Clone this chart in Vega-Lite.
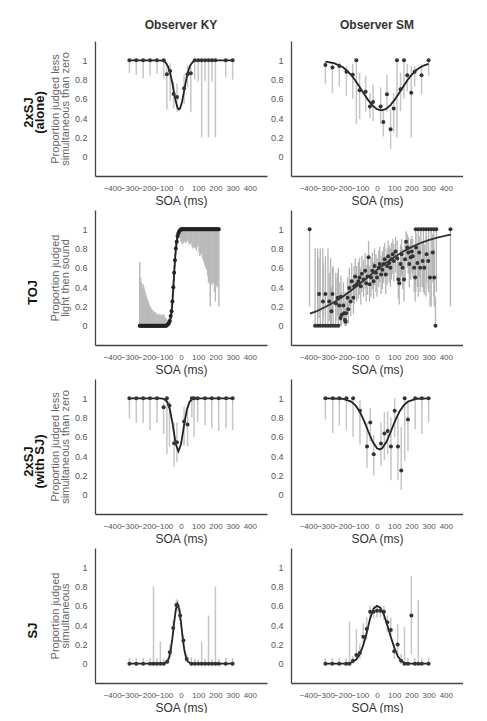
{
"$schema": "https://vega.github.io/schema/vega-lite/v6.json",
"padding": {"left": 22, "top": 19, "right": 0, "bottom": 0},
"background": "white",
"spacing": 4,
"config": {
  "font": "Liberation Sans",
  "view": {"stroke": null},
  "axis": {"grid": false, "ticks": false, "domainColor": "#444", "domainWidth": 1.3, "labelColor": "#555", "labelFont": "Liberation Sans", "titleFont": "Liberation Sans", "titleFontWeight": "normal", "labelOverlap": false, "labelFlush": false},
  "axisX": {"labelFontSize": 8, "labelPadding": 8, "titleFontSize": 12, "titleColor": "#333", "titlePadding": 3},
  "axisY": {"labelFontSize": 9, "labelPadding": 8, "titleFontSize": 11, "titleColor": "#666", "titleLineHeight": 9.5, "titlePadding": 4},
  "title": {"font": "Liberation Sans", "fontSize": 12, "fontWeight": "bold", "color": "#333", "offset": 9}
},
"datasets": {
  "p1": [
    {"x": -300, "y": 1, "lo": 0.87, "hi": 1}, {"x": -260, "y": 1, "lo": 0.85, "hi": 1}, {"x": -220, "y": 1, "lo": 0.81, "hi": 1}, {"x": -180, "y": 1, "lo": 0.84, "hi": 1}, {"x": -140, "y": 1, "lo": 0.86, "hi": 1}, {"x": -100, "y": 1, "lo": 0.82, "hi": 1},
    {"x": -82, "y": 0.855, "lo": 0.49, "hi": 0.97}, {"x": -63, "y": 0.89, "lo": 0.58, "hi": 0.97}, {"x": -43, "y": 0.65, "lo": 0.5, "hi": 0.78}, {"x": -23, "y": 0.62, "lo": 0.47, "hi": 0.76}, {"x": 18, "y": 0.71, "lo": 0.55, "hi": 0.85}, {"x": 38, "y": 0.855, "lo": 0.72, "hi": 0.95}, {"x": 57, "y": 0.865, "lo": 0.46, "hi": 0.95},
    {"x": 80, "y": 1, "lo": 0.8, "hi": 1}, {"x": 100, "y": 1, "lo": 0.78, "hi": 1}, {"x": 120, "y": 1, "lo": 0.2, "hi": 1}, {"x": 140, "y": 1, "lo": 0.78, "hi": 1}, {"x": 160, "y": 1, "lo": 0.2, "hi": 1}, {"x": 180, "y": 1, "lo": 0.78, "hi": 1}, {"x": 200, "y": 1, "lo": 0.2, "hi": 1}, {"x": 260, "y": 1, "lo": 0.82, "hi": 1}, {"x": 300, "y": 1, "lo": 0.8, "hi": 1}
  ],
  "c1": [
    {"x": -300, "y": 1}, {"x": -150, "y": 1}, {"x": -110, "y": 0.997}, {"x": -90, "y": 0.979}, {"x": -75, "y": 0.935}, {"x": -60, "y": 0.846}, {"x": -50, "y": 0.759}, {"x": -40, "y": 0.661}, {"x": -30, "y": 0.569}, {"x": -20, "y": 0.507}, {"x": -12, "y": 0.49}, {"x": -5, "y": 0.503}, {"x": 5, "y": 0.561}, {"x": 15, "y": 0.651}, {"x": 25, "y": 0.75}, {"x": 35, "y": 0.838}, {"x": 45, "y": 0.906}, {"x": 55, "y": 0.951}, {"x": 70, "y": 0.985}, {"x": 90, "y": 0.998}, {"x": 120, "y": 1}, {"x": 300, "y": 1}
  ],
  "p2": [
    {"x": -300, "y": 0.95, "lo": 0.75, "hi": 0.98}, {"x": -259, "y": 0.924, "lo": 0.66, "hi": 0.98}, {"x": -219, "y": 0.94, "lo": 0.73, "hi": 0.98}, {"x": -178, "y": 0.88, "lo": 0.63, "hi": 0.94}, {"x": -141, "y": 0.85, "lo": 0.6, "hi": 0.96}, {"x": -120, "y": 1, "lo": 0.34, "hi": 1}, {"x": -101, "y": 0.69, "lo": 0.39, "hi": 0.87}, {"x": -66, "y": 0.675, "lo": 0.47, "hi": 0.84}, {"x": -41, "y": 0.52, "lo": 0.4, "hi": 0.66}, {"x": -23, "y": 0.567, "lo": 0.37, "hi": 0.75}, {"x": 21, "y": 0.52, "lo": 0.34, "hi": 0.72}, {"x": 37, "y": 0.36, "lo": 0.21, "hi": 0.49}, {"x": 58, "y": 0.647, "lo": 0.47, "hi": 0.85}, {"x": 79, "y": 0.284, "lo": 0.08, "hi": 0.49}, {"x": 97, "y": 0.5, "lo": 0.25, "hi": 0.66}, {"x": 116, "y": 1, "lo": 0.2, "hi": 1}, {"x": 137, "y": 0.7, "lo": 0.47, "hi": 0.87}, {"x": 157, "y": 1, "lo": 0.6, "hi": 1}, {"x": 176, "y": 0.844, "lo": 0.68, "hi": 0.96}, {"x": 199, "y": 0.664, "lo": 0.2, "hi": 0.94}, {"x": 219, "y": 0.88, "lo": 0.73, "hi": 0.94}, {"x": 259, "y": 0.844, "lo": 0.65, "hi": 0.96}, {"x": 300, "y": 1, "lo": 0.84, "hi": 1}
  ],
  "c2": [
    {"x": -300, "y": 0.985}, {"x": -250, "y": 0.97}, {"x": -200, "y": 0.931}, {"x": -175, "y": 0.894}, {"x": -150, "y": 0.847}, {"x": -125, "y": 0.788}, {"x": -100, "y": 0.721}, {"x": -75, "y": 0.651}, {"x": -50, "y": 0.584}, {"x": -25, "y": 0.529}, {"x": 0, "y": 0.493}, {"x": 25, "y": 0.48}, {"x": 50, "y": 0.493}, {"x": 75, "y": 0.529}, {"x": 100, "y": 0.584}, {"x": 125, "y": 0.651}, {"x": 150, "y": 0.721}, {"x": 175, "y": 0.788}, {"x": 200, "y": 0.847}, {"x": 225, "y": 0.894}, {"x": 250, "y": 0.926}, {"x": 275, "y": 0.948}, {"x": 300, "y": 0.962}
  ],
  "p3": [
    {"x": -300, "y": 1, "lo": 0.79, "hi": 1}, {"x": -260, "y": 1, "lo": 0.745, "hi": 1}, {"x": -220, "y": 1, "lo": 0.74, "hi": 1}, {"x": -180, "y": 1, "lo": 0.67, "hi": 1}, {"x": -140, "y": 1, "lo": 0.745, "hi": 1}, {"x": -101, "y": 0.907, "lo": 0.63, "hi": 0.95}, {"x": -82, "y": 1, "lo": 0.42, "hi": 1}, {"x": -67, "y": 0.924, "lo": 0.5, "hi": 0.97}, {"x": -40, "y": 0.534, "lo": 0.29, "hi": 0.75}, {"x": -24, "y": 0.545, "lo": 0.34, "hi": 0.75}, {"x": 18, "y": 0.759, "lo": 0.51, "hi": 0.91}, {"x": 38, "y": 0.728, "lo": 0.5, "hi": 0.88}, {"x": 63, "y": 1, "lo": 0.8, "hi": 1}, {"x": 76, "y": 1, "lo": 0.6, "hi": 1}, {"x": 97, "y": 1, "lo": 0.75, "hi": 1}, {"x": 140, "y": 1, "lo": 0.72, "hi": 1}, {"x": 179, "y": 1, "lo": 0.69, "hi": 1}, {"x": 219, "y": 1, "lo": 0.66, "hi": 1}, {"x": 262, "y": 1, "lo": 0.69, "hi": 1}, {"x": 300, "y": 1, "lo": 0.67, "hi": 1}
  ],
  "c3": [
    {"x": -300, "y": 1}, {"x": -120, "y": 0.999}, {"x": -100, "y": 0.995}, {"x": -80, "y": 0.963}, {"x": -65, "y": 0.888}, {"x": -50, "y": 0.748}, {"x": -40, "y": 0.63}, {"x": -30, "y": 0.524}, {"x": -15, "y": 0.45}, {"x": 0, "y": 0.524}, {"x": 10, "y": 0.63}, {"x": 20, "y": 0.748}, {"x": 35, "y": 0.888}, {"x": 50, "y": 0.963}, {"x": 65, "y": 0.991}, {"x": 90, "y": 1}, {"x": 300, "y": 1}
  ],
  "p4": [
    {"x": -300, "y": 1, "lo": 0.78, "hi": 1}, {"x": -257, "y": 1, "lo": 0.64, "hi": 1}, {"x": -219, "y": 1, "lo": 0.72, "hi": 1}, {"x": -178, "y": 1, "lo": 0.67, "hi": 1}, {"x": -139, "y": 1, "lo": 0.6, "hi": 1}, {"x": -99, "y": 0.87, "lo": 0.52, "hi": 0.98}, {"x": -58, "y": 0.5, "lo": 0.28, "hi": 0.75}, {"x": -39, "y": 0.75, "lo": 0.55, "hi": 0.9}, {"x": -19, "y": 0.42, "lo": 0.2, "hi": 0.62}, {"x": 23, "y": 0.53, "lo": 0.3, "hi": 0.75}, {"x": 43, "y": 0.635, "lo": 0.36, "hi": 0.86}, {"x": 62, "y": 0.66, "lo": 0.42, "hi": 0.87}, {"x": 81, "y": 0.5, "lo": 0.15, "hi": 0.8}, {"x": 103, "y": 0.87, "lo": 0.6, "hi": 1}, {"x": 122, "y": 0.5, "lo": 0.15, "hi": 0.8}, {"x": 141, "y": 0.25, "lo": 0.05, "hi": 0.7}, {"x": 161, "y": 1, "lo": 0.35, "hi": 1}, {"x": 180, "y": 0.78, "lo": 0.45, "hi": 0.97}, {"x": 222, "y": 1, "lo": 0.68, "hi": 1}, {"x": 261, "y": 1, "lo": 0.63, "hi": 1}, {"x": 300, "y": 1, "lo": 0.75, "hi": 1}
  ],
  "c4": [
    {"x": -300, "y": 1}, {"x": -200, "y": 0.995}, {"x": -150, "y": 0.966}, {"x": -125, "y": 0.926}, {"x": -100, "y": 0.86}, {"x": -75, "y": 0.765}, {"x": -50, "y": 0.653}, {"x": -25, "y": 0.549}, {"x": 0, "y": 0.482}, {"x": 15, "y": 0.47}, {"x": 30, "y": 0.482}, {"x": 55, "y": 0.549}, {"x": 80, "y": 0.653}, {"x": 105, "y": 0.765}, {"x": 130, "y": 0.86}, {"x": 155, "y": 0.926}, {"x": 180, "y": 0.966}, {"x": 230, "y": 0.995}, {"x": 300, "y": 1}
  ],
  "p5": [
    {"x": -240, "y": 0, "lo": 0, "hi": 0.66}, {"x": -235, "y": 0, "lo": 0, "hi": 0.5}, {"x": -230, "y": 0, "lo": 0, "hi": 0.45}, {"x": -225, "y": 0, "lo": 0, "hi": 0.38}, {"x": -220, "y": 0, "lo": 0, "hi": 0.43}, {"x": -215, "y": 0, "lo": 0, "hi": 0.4}, {"x": -210, "y": 0, "lo": 0, "hi": 0.36}, {"x": -205, "y": 0, "lo": 0, "hi": 0.33}, {"x": -200, "y": 0, "lo": 0, "hi": 0.3}, {"x": -195, "y": 0, "lo": 0, "hi": 0.27}, {"x": -190, "y": 0, "lo": 0, "hi": 0.25}, {"x": -185, "y": 0, "lo": 0, "hi": 0.22}, {"x": -180, "y": 0, "lo": 0, "hi": 0.2}, {"x": -175, "y": 0, "lo": 0, "hi": 0.19}, {"x": -170, "y": 0, "lo": 0, "hi": 0.17}, {"x": -165, "y": 0, "lo": 0, "hi": 0.16}, {"x": -160, "y": 0, "lo": 0, "hi": 0.15}, {"x": -155, "y": 0, "lo": 0, "hi": 0.14}, {"x": -150, "y": 0, "lo": 0, "hi": 0.14}, {"x": -145, "y": 0, "lo": 0, "hi": 0.13}, {"x": -140, "y": 0, "lo": 0, "hi": 0.12}, {"x": -135, "y": 0, "lo": 0, "hi": 0.12}, {"x": -130, "y": 0, "lo": 0, "hi": 0.11}, {"x": -125, "y": 0, "lo": 0, "hi": 0.12}, {"x": -120, "y": 0, "lo": 0, "hi": 0.1}, {"x": -115, "y": 0, "lo": 0, "hi": 0.12}, {"x": -110, "y": 0, "lo": 0, "hi": 0.1}, {"x": -105, "y": 0, "lo": 0, "hi": 0.11}, {"x": -100, "y": 0, "lo": 0, "hi": 0.12}, {"x": -95, "y": 0, "lo": 0, "hi": 0.09}, {"x": -90, "y": 0, "lo": 0, "hi": 0.08}, {"x": -85, "y": 0, "lo": 0, "hi": 0.07}, {"x": -80, "y": 0.01, "lo": 0, "hi": 0.06}, {"x": -75, "y": 0.015, "lo": 0, "hi": 0.06}, {"x": -70, "y": 0.03, "lo": 0, "hi": 0.08}, {"x": -65, "y": 0.05, "lo": 0.01, "hi": 0.11}, {"x": -60, "y": 0.1, "lo": 0.05, "hi": 0.17}, {"x": -55, "y": 0.15, "lo": 0.09, "hi": 0.23}, {"x": -50, "y": 0.25, "lo": 0.18, "hi": 0.33}, {"x": -45, "y": 0.4, "lo": 0.32, "hi": 0.48}, {"x": -40, "y": 0.55, "lo": 0.47, "hi": 0.63}, {"x": -35, "y": 0.68, "lo": 0.6, "hi": 0.75}, {"x": -30, "y": 0.8, "lo": 0.73, "hi": 0.86}, {"x": -25, "y": 0.87, "lo": 0.81, "hi": 0.92}, {"x": -20, "y": 0.93, "lo": 0.88, "hi": 0.97}, {"x": -15, "y": 0.96, "lo": 0.9, "hi": 0.99}, {"x": -10, "y": 0.98, "lo": 0.92, "hi": 1}, {"x": -5, "y": 0.99, "lo": 0.9, "hi": 1},
    {"x": 0, "y": 1, "lo": 0.87, "hi": 1}, {"x": 5, "y": 1, "lo": 0.85, "hi": 1}, {"x": 10, "y": 1, "lo": 0.85, "hi": 1}, {"x": 15, "y": 1, "lo": 0.87, "hi": 1}, {"x": 20, "y": 1, "lo": 0.88, "hi": 1}, {"x": 25, "y": 1, "lo": 0.86, "hi": 1}, {"x": 30, "y": 1, "lo": 0.86, "hi": 1}, {"x": 35, "y": 1, "lo": 0.88, "hi": 1}, {"x": 40, "y": 1, "lo": 0.9, "hi": 1}, {"x": 45, "y": 1, "lo": 0.86, "hi": 1}, {"x": 50, "y": 1, "lo": 0.84, "hi": 1}, {"x": 55, "y": 1, "lo": 0.85, "hi": 1}, {"x": 60, "y": 1, "lo": 0.86, "hi": 1}, {"x": 65, "y": 1, "lo": 0.82, "hi": 1}, {"x": 70, "y": 1, "lo": 0.8, "hi": 1}, {"x": 75, "y": 1, "lo": 0.81, "hi": 1}, {"x": 80, "y": 1, "lo": 0.82, "hi": 1}, {"x": 85, "y": 1, "lo": 0.8, "hi": 1}, {"x": 90, "y": 1, "lo": 0.78, "hi": 1}, {"x": 95, "y": 1, "lo": 0.82, "hi": 1}, {"x": 100, "y": 1, "lo": 0.85, "hi": 1}, {"x": 105, "y": 1, "lo": 0.76, "hi": 1}, {"x": 110, "y": 1, "lo": 0.72, "hi": 1}, {"x": 115, "y": 1, "lo": 0.74, "hi": 1}, {"x": 120, "y": 1, "lo": 0.75, "hi": 1}, {"x": 125, "y": 1, "lo": 0.7, "hi": 1}, {"x": 130, "y": 1, "lo": 0.68, "hi": 1}, {"x": 135, "y": 1, "lo": 0.65, "hi": 1}, {"x": 140, "y": 1, "lo": 0.62, "hi": 1}, {"x": 145, "y": 1, "lo": 0.6, "hi": 1}, {"x": 150, "y": 1, "lo": 0.58, "hi": 1}, {"x": 155, "y": 1, "lo": 0.52, "hi": 1}, {"x": 160, "y": 1, "lo": 0.45, "hi": 1}, {"x": 165, "y": 1, "lo": 0.44, "hi": 1}, {"x": 170, "y": 1, "lo": 0.2, "hi": 1}, {"x": 175, "y": 1, "lo": 0.43, "hi": 1}, {"x": 180, "y": 1, "lo": 0.42, "hi": 1}, {"x": 185, "y": 1, "lo": 0.45, "hi": 1}, {"x": 190, "y": 1, "lo": 0.44, "hi": 1}, {"x": 195, "y": 1, "lo": 0.35, "hi": 1}, {"x": 200, "y": 1, "lo": 0.25, "hi": 1}, {"x": 205, "y": 1, "lo": 0.42, "hi": 1}, {"x": 210, "y": 1, "lo": 0.4, "hi": 1}, {"x": 215, "y": 1, "lo": 0.43, "hi": 1}, {"x": 220, "y": 1, "lo": 0.2, "hi": 1}
  ],
  "c5": [
    {"x": -240, "y": 0}, {"x": -120, "y": 0}, {"x": -100, "y": 0.001}, {"x": -80, "y": 0.007}, {"x": -70, "y": 0.023}, {"x": -60, "y": 0.08}, {"x": -55, "y": 0.14}, {"x": -50, "y": 0.24}, {"x": -45, "y": 0.38}, {"x": -40, "y": 0.53}, {"x": -35, "y": 0.68}, {"x": -30, "y": 0.8}, {"x": -25, "y": 0.88}, {"x": -20, "y": 0.935}, {"x": -10, "y": 0.98}, {"x": 0, "y": 0.995}, {"x": 20, "y": 1}, {"x": 220, "y": 1}
  ],
  "p6": [
    {"x": -392, "y": 1, "lo": 0.2, "hi": 1}, {"x": 427, "y": 1, "lo": 0.2, "hi": 1}, {"x": 340, "y": 0, "lo": 0, "hi": 0.3},
    {"x": -360, "y": 0, "lo": 0, "hi": 0.8}, {"x": -345, "y": 0, "lo": 0, "hi": 0.8}, {"x": -330, "y": 0, "lo": 0, "hi": 0.8}, {"x": -315, "y": 0, "lo": 0, "hi": 0.8}, {"x": -300, "y": 0, "lo": 0, "hi": 0.72}, {"x": -285, "y": 0, "lo": 0, "hi": 0.8}, {"x": -270, "y": 0, "lo": 0, "hi": 0.7}, {"x": -255, "y": 0, "lo": 0, "hi": 0.62}, {"x": -240, "y": 0, "lo": 0, "hi": 0.55}, {"x": -225, "y": 0, "lo": 0, "hi": 0.6},
    {"x": -337, "y": 0.33, "lo": 0.08, "hi": 0.7}, {"x": -314, "y": 0.25, "lo": 0.05, "hi": 0.65}, {"x": -300, "y": 0.33, "lo": 0.1, "hi": 0.62}, {"x": -278, "y": 0.25, "lo": 0.05, "hi": 0.55}, {"x": -259, "y": 0.33, "lo": 0.12, "hi": 0.6}, {"x": -265, "y": 0.15, "lo": 0, "hi": 0.4}, {"x": -239, "y": 0.23, "lo": 0.05, "hi": 0.5}, {"x": -229, "y": 0.29, "lo": 0.1, "hi": 0.55}, {"x": -220, "y": 0.21, "lo": 0.05, "hi": 0.45}, {"x": -210, "y": 0.3, "lo": 0.12, "hi": 0.52}, {"x": -206, "y": 0.11, "lo": 0, "hi": 0.35}, {"x": -196, "y": 0.21, "lo": 0.05, "hi": 0.45}, {"x": -212, "y": 0.08, "lo": 0, "hi": 0.3}, {"x": -192, "y": 0.13, "lo": 0.02, "hi": 0.35}, {"x": -186, "y": 0.06, "lo": 0, "hi": 0.25}, {"x": -182, "y": 0.04, "lo": 0, "hi": 0.2}, {"x": -180, "y": 0.13, "lo": 0, "hi": 0.35}, {"x": -171, "y": 0.29, "lo": 0.12, "hi": 0.5}, {"x": -161, "y": 0.39, "lo": 0.2, "hi": 0.6}, {"x": -167, "y": 0.17, "lo": 0.02, "hi": 0.4}, {"x": -153, "y": 0.25, "lo": 0.1, "hi": 0.48}, {"x": -147, "y": 0.46, "lo": 0.28, "hi": 0.65}, {"x": -137, "y": 0.29, "lo": 0.12, "hi": 0.5}, {"x": -133, "y": 0.41, "lo": 0.22, "hi": 0.62},
    {"x": -127, "y": 0.51, "lo": 0.3, "hi": 0.7}, {"x": -118, "y": 0.43, "lo": 0.25, "hi": 0.62}, {"x": -108, "y": 0.46, "lo": 0.28, "hi": 0.66}, {"x": -102, "y": 0.5, "lo": 0.32, "hi": 0.7}, {"x": -94, "y": 0.41, "lo": 0.22, "hi": 0.6}, {"x": -88, "y": 0.54, "lo": 0.35, "hi": 0.72}, {"x": -78, "y": 0.48, "lo": 0.3, "hi": 0.68}, {"x": -69, "y": 0.57, "lo": 0.38, "hi": 0.75}, {"x": -63, "y": 0.44, "lo": 0.25, "hi": 0.63}, {"x": -55, "y": 0.51, "lo": 0.32, "hi": 0.7}, {"x": -49, "y": 0.71, "lo": 0.5, "hi": 0.88}, {"x": -43, "y": 0.43, "lo": 0.25, "hi": 0.62}, {"x": -35, "y": 0.5, "lo": 0.3, "hi": 0.7}, {"x": -27, "y": 0.57, "lo": 0.38, "hi": 0.76}, {"x": -20, "y": 0.46, "lo": 0.28, "hi": 0.66}, {"x": -14, "y": 0.62, "lo": 0.42, "hi": 0.8}, {"x": -6, "y": 0.55, "lo": 0.35, "hi": 0.74}, {"x": 0, "y": 0.5, "lo": 0.3, "hi": 0.7}, {"x": 10, "y": 0.6, "lo": 0.4, "hi": 0.78}, {"x": 16, "y": 0.64, "lo": 0.45, "hi": 0.82}, {"x": 24, "y": 0.53, "lo": 0.33, "hi": 0.72}, {"x": 31, "y": 0.58, "lo": 0.38, "hi": 0.77}, {"x": 39, "y": 0.64, "lo": 0.44, "hi": 0.82}, {"x": 45, "y": 0.69, "lo": 0.5, "hi": 0.86}, {"x": 51, "y": 0.53, "lo": 0.33, "hi": 0.72}, {"x": 59, "y": 0.62, "lo": 0.42, "hi": 0.8}, {"x": 65, "y": 0.72, "lo": 0.52, "hi": 0.88}, {"x": 71, "y": 0.65, "lo": 0.45, "hi": 0.83}, {"x": 78, "y": 0.6, "lo": 0.4, "hi": 0.8}, {"x": 84, "y": 0.69, "lo": 0.48, "hi": 0.86}, {"x": 92, "y": 0.74, "lo": 0.54, "hi": 0.9}, {"x": 98, "y": 0.67, "lo": 0.46, "hi": 0.85},
    {"x": 108, "y": 0.77, "lo": 0.55, "hi": 0.92}, {"x": 118, "y": 0.7, "lo": 0.48, "hi": 0.88}, {"x": 124, "y": 0.48, "lo": 0.28, "hi": 0.7}, {"x": 129, "y": 0.44, "lo": 0.22, "hi": 0.66}, {"x": 137, "y": 0.64, "lo": 0.42, "hi": 0.84}, {"x": 143, "y": 0.74, "lo": 0.52, "hi": 0.9}, {"x": 149, "y": 0.6, "lo": 0.38, "hi": 0.8}, {"x": 157, "y": 0.48, "lo": 0.25, "hi": 0.7}, {"x": 163, "y": 0.69, "lo": 0.46, "hi": 0.88}, {"x": 169, "y": 0.87, "lo": 0.68, "hi": 0.98}, {"x": 176, "y": 0.81, "lo": 0.6, "hi": 0.95}, {"x": 182, "y": 0.76, "lo": 0.54, "hi": 0.92}, {"x": 188, "y": 0.64, "lo": 0.4, "hi": 0.84}, {"x": 196, "y": 0.71, "lo": 0.48, "hi": 0.9}, {"x": 202, "y": 0.77, "lo": 0.55, "hi": 0.93}, {"x": 208, "y": 0.72, "lo": 0.5, "hi": 0.9}, {"x": 216, "y": 0.6, "lo": 0.35, "hi": 0.82}, {"x": 222, "y": 0.5, "lo": 0.25, "hi": 0.75}, {"x": 227, "y": 0.81, "lo": 0.58, "hi": 0.96}, {"x": 235, "y": 0.65, "lo": 0.4, "hi": 0.86}, {"x": 245, "y": 0.76, "lo": 0.5, "hi": 0.93}, {"x": 251, "y": 0.6, "lo": 0.35, "hi": 0.82}, {"x": 265, "y": 0.67, "lo": 0.4, "hi": 0.88}, {"x": 275, "y": 0.6, "lo": 0.32, "hi": 0.84}, {"x": 288, "y": 0.74, "lo": 0.45, "hi": 0.93}, {"x": 298, "y": 0.67, "lo": 0.38, "hi": 0.88}, {"x": 308, "y": 0.5, "lo": 0.2, "hi": 0.78}, {"x": 324, "y": 0.76, "lo": 0.45, "hi": 0.95}, {"x": 333, "y": 0.5, "lo": 0.2, "hi": 0.8},
    {"x": 225, "y": 1, "lo": 0.35, "hi": 1}, {"x": 240, "y": 1, "lo": 0.3, "hi": 1}, {"x": 255, "y": 1, "lo": 0.4, "hi": 1}, {"x": 270, "y": 1, "lo": 0.35, "hi": 1}, {"x": 285, "y": 1, "lo": 0.3, "hi": 1}, {"x": 300, "y": 1, "lo": 0.35, "hi": 1}, {"x": 315, "y": 1, "lo": 0.2, "hi": 1}, {"x": 330, "y": 1, "lo": 0.3, "hi": 1}, {"x": 345, "y": 1, "lo": 0.35, "hi": 1}
  ],
  "c6": [
    {"x": -390, "y": 0.125}, {"x": -350, "y": 0.152}, {"x": -300, "y": 0.194}, {"x": -250, "y": 0.243}, {"x": -200, "y": 0.301}, {"x": -150, "y": 0.365}, {"x": -100, "y": 0.435}, {"x": -50, "y": 0.507}, {"x": 0, "y": 0.579}, {"x": 50, "y": 0.648}, {"x": 100, "y": 0.711}, {"x": 150, "y": 0.767}, {"x": 200, "y": 0.815}, {"x": 250, "y": 0.855}, {"x": 300, "y": 0.887}, {"x": 350, "y": 0.913}, {"x": 400, "y": 0.934}, {"x": 430, "y": 0.944}
  ],
  "p7": [
    {"x": -300, "y": 0, "lo": 0, "hi": 0.06}, {"x": -260, "y": 0, "lo": 0, "hi": 0.06}, {"x": -220, "y": 0, "lo": 0, "hi": 0.06}, {"x": -180, "y": 0, "lo": 0, "hi": 0.06}, {"x": -160, "y": 0, "lo": 0, "hi": 0.8}, {"x": -140, "y": 0, "lo": 0, "hi": 0.06}, {"x": -120, "y": 0, "lo": 0, "hi": 0.23}, {"x": -100, "y": 0, "lo": 0, "hi": 0.05}, {"x": -80, "y": 0.02, "lo": 0, "hi": 0.06}, {"x": -65, "y": 0.12, "lo": 0.06, "hi": 0.2}, {"x": -45, "y": 0.37, "lo": 0.3, "hi": 0.45}, {"x": -27, "y": 0.61, "lo": 0.55, "hi": 0.67}, {"x": -20, "y": 0.6, "lo": 0.54, "hi": 0.66}, {"x": -5, "y": 0.5, "lo": 0.44, "hi": 0.57}, {"x": 14, "y": 0.24, "lo": 0.18, "hi": 0.3}, {"x": 33, "y": 0.05, "lo": 0.02, "hi": 0.1}, {"x": 60, "y": 0, "lo": 0, "hi": 0.07}, {"x": 80, "y": 0, "lo": 0, "hi": 0.05}, {"x": 100, "y": 0, "lo": 0, "hi": 0.04}, {"x": 120, "y": 0, "lo": 0, "hi": 0.23}, {"x": 140, "y": 0, "lo": 0, "hi": 0.05}, {"x": 160, "y": 0, "lo": 0, "hi": 0.5}, {"x": 180, "y": 0, "lo": 0, "hi": 0.05}, {"x": 200, "y": 0, "lo": 0, "hi": 0.8}, {"x": 220, "y": 0, "lo": 0, "hi": 0.05}, {"x": 260, "y": 0, "lo": 0, "hi": 0.06}, {"x": 300, "y": 0, "lo": 0, "hi": 0.06}
  ],
  "c7": [
    {"x": -300, "y": 0}, {"x": -120, "y": 0}, {"x": -100, "y": 0.002}, {"x": -80, "y": 0.021}, {"x": -70, "y": 0.058}, {"x": -60, "y": 0.137}, {"x": -50, "y": 0.265}, {"x": -40, "y": 0.425}, {"x": -30, "y": 0.564}, {"x": -20, "y": 0.62}, {"x": -10, "y": 0.564}, {"x": 0, "y": 0.425}, {"x": 10, "y": 0.265}, {"x": 20, "y": 0.137}, {"x": 30, "y": 0.058}, {"x": 40, "y": 0.021}, {"x": 60, "y": 0.002}, {"x": 80, "y": 0}, {"x": 300, "y": 0}
  ],
  "p8": [
    {"x": -300, "y": 0, "lo": 0, "hi": 0.06}, {"x": -260, "y": 0, "lo": 0, "hi": 0.06}, {"x": -220, "y": 0, "lo": 0, "hi": 0.06}, {"x": -180, "y": 0, "lo": 0, "hi": 0.06}, {"x": -160, "y": 0, "lo": 0, "hi": 0.44}, {"x": -140, "y": 0.03, "lo": 0, "hi": 0.08}, {"x": -120, "y": 0.09, "lo": 0.03, "hi": 0.36}, {"x": -100, "y": 0.11, "lo": 0.05, "hi": 0.2}, {"x": -80, "y": 0.28, "lo": 0.2, "hi": 0.42}, {"x": -60, "y": 0.36, "lo": 0.25, "hi": 0.48}, {"x": -40, "y": 0.54, "lo": 0.47, "hi": 0.6}, {"x": -20, "y": 0.54, "lo": 0.47, "hi": 0.6}, {"x": 0, "y": 0.55, "lo": 0.48, "hi": 0.6}, {"x": 20, "y": 0.55, "lo": 0.48, "hi": 0.6}, {"x": 40, "y": 0.54, "lo": 0.45, "hi": 0.6}, {"x": 60, "y": 0.43, "lo": 0.33, "hi": 0.5}, {"x": 80, "y": 0.35, "lo": 0.28, "hi": 0.48}, {"x": 100, "y": 0.13, "lo": 0.05, "hi": 0.2}, {"x": 120, "y": 0.2, "lo": 0.08, "hi": 0.41}, {"x": 140, "y": 0.03, "lo": 0, "hi": 0.1}, {"x": 160, "y": 0, "lo": 0, "hi": 0.38}, {"x": 180, "y": 0, "lo": 0, "hi": 0.06}, {"x": 200, "y": 0.5, "lo": 0.1, "hi": 0.91}, {"x": 220, "y": 0, "lo": 0, "hi": 0.06}, {"x": 240, "y": 0, "lo": 0, "hi": 0.66}, {"x": 260, "y": 0, "lo": 0, "hi": 0.06}, {"x": 300, "y": 0, "lo": 0, "hi": 0.06}
  ],
  "c8": [
    {"x": -300, "y": 0}, {"x": -180, "y": 0}, {"x": -160, "y": 0.005}, {"x": -140, "y": 0.02}, {"x": -120, "y": 0.045}, {"x": -100, "y": 0.1}, {"x": -80, "y": 0.19}, {"x": -60, "y": 0.32}, {"x": -40, "y": 0.47}, {"x": -20, "y": 0.57}, {"x": 0, "y": 0.6}, {"x": 20, "y": 0.58}, {"x": 40, "y": 0.51}, {"x": 60, "y": 0.4}, {"x": 80, "y": 0.28}, {"x": 100, "y": 0.17}, {"x": 120, "y": 0.08}, {"x": 140, "y": 0.03}, {"x": 160, "y": 0.008}, {"x": 180, "y": 0}, {"x": 300, "y": 0}
  ]
},
"vconcat": [
  {
    "title": {"text": ["2xSJ", "(alone)"], "orient": "left", "anchor": "middle", "fontSize": 13, "fontWeight": "bold", "color": "#111", "lineHeight": 11, "offset": 3},
    "spacing": 3,
    "hconcat": [
      {"width": 172, "height": 135, "title": "Observer KY",
       "encoding": {"x": {"field": "x", "type": "quantitative", "title": "SOA (ms)", "scale": {"domain": [-500, 500], "nice": false}, "axis": {"values": [-400, -300, -200, -100, 0, 100, 200, 300, 400], "labelOverlap": false}}},
       "layer": [
        {"data": {"name": "p1"}, "mark": {"type": "rule", "color": "#c6c6c6", "strokeWidth": 1.5}, "encoding": {"y": {"field": "lo", "type": "quantitative", "title": ["Proportion judged less", "simultaneous than zero"], "scale": {"domain": [-0.2, 1.2], "nice": false}, "axis": {"values": [0, 0.2, 0.4, 0.6, 0.8, 1], "format": "~g", "labelOverlap": false}}, "y2": {"field": "hi"}}},
        {"data": {"name": "c1"}, "mark": {"type": "line", "color": "#222", "strokeWidth": 1.8}, "encoding": {"y": {"field": "y", "type": "quantitative", "title": ["Proportion judged less", "simultaneous than zero"], "scale": {"domain": [-0.2, 1.2], "nice": false}, "axis": {"values": [0, 0.2, 0.4, 0.6, 0.8, 1], "format": "~g", "labelOverlap": false}}}},
        {"data": {"name": "p1"}, "mark": {"type": "point", "filled": true, "color": "#333", "size": 16, "opacity": 1}, "encoding": {"y": {"field": "y", "type": "quantitative", "title": ["Proportion judged less", "simultaneous than zero"], "scale": {"domain": [-0.2, 1.2], "nice": false}, "axis": {"values": [0, 0.2, 0.4, 0.6, 0.8, 1], "format": "~g", "labelOverlap": false}}}}
       ]},
      {"width": 172, "height": 135, "title": "Observer SM",
       "encoding": {"x": {"field": "x", "type": "quantitative", "title": "SOA (ms)", "scale": {"domain": [-500, 500], "nice": false}, "axis": {"values": [-400, -300, -200, -100, 0, 100, 200, 300, 400], "labelOverlap": false}}},
       "layer": [
        {"data": {"name": "p2"}, "mark": {"type": "rule", "color": "#c6c6c6", "strokeWidth": 1.5}, "encoding": {"y": {"field": "lo", "type": "quantitative", "title": null, "scale": {"domain": [-0.2, 1.2], "nice": false}, "axis": {"values": [0, 0.2, 0.4, 0.6, 0.8, 1], "format": "~g", "labelOverlap": false}}, "y2": {"field": "hi"}}},
        {"data": {"name": "c2"}, "mark": {"type": "line", "color": "#222", "strokeWidth": 1.8}, "encoding": {"y": {"field": "y", "type": "quantitative", "title": null, "scale": {"domain": [-0.2, 1.2], "nice": false}, "axis": {"values": [0, 0.2, 0.4, 0.6, 0.8, 1], "format": "~g", "labelOverlap": false}}}},
        {"data": {"name": "p2"}, "mark": {"type": "point", "filled": true, "color": "#333", "size": 16, "opacity": 1}, "encoding": {"y": {"field": "y", "type": "quantitative", "title": null, "scale": {"domain": [-0.2, 1.2], "nice": false}, "axis": {"values": [0, 0.2, 0.4, 0.6, 0.8, 1], "format": "~g", "labelOverlap": false}}}}
       ]}
    ]
  },
  {
    "title": {"text": "TOJ", "orient": "left", "anchor": "middle", "fontSize": 13, "fontWeight": "bold", "color": "#111", "offset": 10},
    "spacing": 3,
    "hconcat": [
      {"width": 172, "height": 135,
       "encoding": {"x": {"field": "x", "type": "quantitative", "title": "SOA (ms)", "scale": {"domain": [-500, 500], "nice": false}, "axis": {"values": [-400, -300, -200, -100, 0, 100, 200, 300, 400], "labelOverlap": false}}},
       "layer": [
        {"data": {"name": "p5"}, "mark": {"type": "rule", "color": "#bababa", "strokeWidth": 1.5}, "encoding": {"y": {"field": "lo", "type": "quantitative", "title": ["Proportion judged", "light then sound"], "scale": {"domain": [-0.2, 1.2], "nice": false}, "axis": {"values": [0, 0.2, 0.4, 0.6, 0.8, 1], "format": "~g", "labelOverlap": false}}, "y2": {"field": "hi"}}},
        {"data": {"name": "c5"}, "mark": {"type": "line", "color": "#222", "strokeWidth": 1.8}, "encoding": {"y": {"field": "y", "type": "quantitative", "title": ["Proportion judged", "light then sound"], "scale": {"domain": [-0.2, 1.2], "nice": false}, "axis": {"values": [0, 0.2, 0.4, 0.6, 0.8, 1], "format": "~g", "labelOverlap": false}}}},
        {"data": {"name": "p5"}, "mark": {"type": "point", "filled": true, "color": "#222", "size": 16, "opacity": 1}, "encoding": {"y": {"field": "y", "type": "quantitative", "title": ["Proportion judged", "light then sound"], "scale": {"domain": [-0.2, 1.2], "nice": false}, "axis": {"values": [0, 0.2, 0.4, 0.6, 0.8, 1], "format": "~g", "labelOverlap": false}}}}
       ]},
      {"width": 172, "height": 135,
       "encoding": {"x": {"field": "x", "type": "quantitative", "title": "SOA (ms)", "scale": {"domain": [-500, 500], "nice": false}, "axis": {"values": [-400, -300, -200, -100, 0, 100, 200, 300, 400], "labelOverlap": false}}},
       "layer": [
        {"data": {"name": "p6"}, "mark": {"type": "rule", "color": "#b4b4b4", "strokeWidth": 1.3}, "encoding": {"y": {"field": "lo", "type": "quantitative", "title": null, "scale": {"domain": [-0.2, 1.2], "nice": false}, "axis": {"values": [0, 0.2, 0.4, 0.6, 0.8, 1], "format": "~g", "labelOverlap": false}}, "y2": {"field": "hi"}}},
        {"data": {"name": "c6"}, "mark": {"type": "line", "color": "#333", "strokeWidth": 1.8}, "encoding": {"y": {"field": "y", "type": "quantitative", "title": null, "scale": {"domain": [-0.2, 1.2], "nice": false}, "axis": {"values": [0, 0.2, 0.4, 0.6, 0.8, 1], "format": "~g", "labelOverlap": false}}}},
        {"data": {"name": "p6"}, "mark": {"type": "point", "filled": true, "color": "#333", "size": 16, "opacity": 1}, "encoding": {"y": {"field": "y", "type": "quantitative", "title": null, "scale": {"domain": [-0.2, 1.2], "nice": false}, "axis": {"values": [0, 0.2, 0.4, 0.6, 0.8, 1], "format": "~g", "labelOverlap": false}}}}
       ]}
    ]
  },
  {
    "title": {"text": ["2xSJ", "(with SJ)"], "orient": "left", "anchor": "middle", "fontSize": 13, "fontWeight": "bold", "color": "#111", "lineHeight": 11, "offset": 3},
    "spacing": 3,
    "hconcat": [
      {"width": 172, "height": 135,
       "encoding": {"x": {"field": "x", "type": "quantitative", "title": "SOA (ms)", "scale": {"domain": [-500, 500], "nice": false}, "axis": {"values": [-400, -300, -200, -100, 0, 100, 200, 300, 400], "labelOverlap": false}}},
       "layer": [
        {"data": {"name": "p3"}, "mark": {"type": "rule", "color": "#c6c6c6", "strokeWidth": 1.5}, "encoding": {"y": {"field": "lo", "type": "quantitative", "title": ["Proportion judged less", "simultaneous than zero"], "scale": {"domain": [-0.2, 1.2], "nice": false}, "axis": {"values": [0, 0.2, 0.4, 0.6, 0.8, 1], "format": "~g", "labelOverlap": false}}, "y2": {"field": "hi"}}},
        {"data": {"name": "c3"}, "mark": {"type": "line", "color": "#222", "strokeWidth": 1.8}, "encoding": {"y": {"field": "y", "type": "quantitative", "title": ["Proportion judged less", "simultaneous than zero"], "scale": {"domain": [-0.2, 1.2], "nice": false}, "axis": {"values": [0, 0.2, 0.4, 0.6, 0.8, 1], "format": "~g", "labelOverlap": false}}}},
        {"data": {"name": "p3"}, "mark": {"type": "point", "filled": true, "color": "#333", "size": 16, "opacity": 1}, "encoding": {"y": {"field": "y", "type": "quantitative", "title": ["Proportion judged less", "simultaneous than zero"], "scale": {"domain": [-0.2, 1.2], "nice": false}, "axis": {"values": [0, 0.2, 0.4, 0.6, 0.8, 1], "format": "~g", "labelOverlap": false}}}}
       ]},
      {"width": 172, "height": 135,
       "encoding": {"x": {"field": "x", "type": "quantitative", "title": "SOA (ms)", "scale": {"domain": [-500, 500], "nice": false}, "axis": {"values": [-400, -300, -200, -100, 0, 100, 200, 300, 400], "labelOverlap": false}}},
       "layer": [
        {"data": {"name": "p4"}, "mark": {"type": "rule", "color": "#c6c6c6", "strokeWidth": 1.5}, "encoding": {"y": {"field": "lo", "type": "quantitative", "title": null, "scale": {"domain": [-0.2, 1.2], "nice": false}, "axis": {"values": [0, 0.2, 0.4, 0.6, 0.8, 1], "format": "~g", "labelOverlap": false}}, "y2": {"field": "hi"}}},
        {"data": {"name": "c4"}, "mark": {"type": "line", "color": "#222", "strokeWidth": 1.8}, "encoding": {"y": {"field": "y", "type": "quantitative", "title": null, "scale": {"domain": [-0.2, 1.2], "nice": false}, "axis": {"values": [0, 0.2, 0.4, 0.6, 0.8, 1], "format": "~g", "labelOverlap": false}}}},
        {"data": {"name": "p4"}, "mark": {"type": "point", "filled": true, "color": "#333", "size": 16, "opacity": 1}, "encoding": {"y": {"field": "y", "type": "quantitative", "title": null, "scale": {"domain": [-0.2, 1.2], "nice": false}, "axis": {"values": [0, 0.2, 0.4, 0.6, 0.8, 1], "format": "~g", "labelOverlap": false}}}}
       ]}
    ]
  },
  {
    "title": {"text": "SJ", "orient": "left", "anchor": "middle", "fontSize": 13, "fontWeight": "bold", "color": "#111", "offset": 10},
    "spacing": 3,
    "hconcat": [
      {"width": 172, "height": 135,
       "encoding": {"x": {"field": "x", "type": "quantitative", "title": "SOA (ms)", "scale": {"domain": [-500, 500], "nice": false}, "axis": {"values": [-400, -300, -200, -100, 0, 100, 200, 300, 400], "labelOverlap": false}}},
       "layer": [
        {"data": {"name": "p7"}, "mark": {"type": "rule", "color": "#c6c6c6", "strokeWidth": 1.5}, "encoding": {"y": {"field": "lo", "type": "quantitative", "title": ["Proportion judged", "simultaneous"], "scale": {"domain": [-0.2, 1.2], "nice": false}, "axis": {"values": [0, 0.2, 0.4, 0.6, 0.8, 1], "format": "~g", "labelOverlap": false}}, "y2": {"field": "hi"}}},
        {"data": {"name": "c7"}, "mark": {"type": "line", "color": "#222", "strokeWidth": 1.8}, "encoding": {"y": {"field": "y", "type": "quantitative", "title": ["Proportion judged", "simultaneous"], "scale": {"domain": [-0.2, 1.2], "nice": false}, "axis": {"values": [0, 0.2, 0.4, 0.6, 0.8, 1], "format": "~g", "labelOverlap": false}}}},
        {"data": {"name": "p7"}, "mark": {"type": "point", "filled": true, "color": "#333", "size": 16, "opacity": 1}, "encoding": {"y": {"field": "y", "type": "quantitative", "title": ["Proportion judged", "simultaneous"], "scale": {"domain": [-0.2, 1.2], "nice": false}, "axis": {"values": [0, 0.2, 0.4, 0.6, 0.8, 1], "format": "~g", "labelOverlap": false}}}}
       ]},
      {"width": 172, "height": 135,
       "encoding": {"x": {"field": "x", "type": "quantitative", "title": "SOA (ms)", "scale": {"domain": [-500, 500], "nice": false}, "axis": {"values": [-400, -300, -200, -100, 0, 100, 200, 300, 400], "labelOverlap": false}}},
       "layer": [
        {"data": {"name": "p8"}, "mark": {"type": "rule", "color": "#c6c6c6", "strokeWidth": 1.5}, "encoding": {"y": {"field": "lo", "type": "quantitative", "title": null, "scale": {"domain": [-0.2, 1.2], "nice": false}, "axis": {"values": [0, 0.2, 0.4, 0.6, 0.8, 1], "format": "~g", "labelOverlap": false}}, "y2": {"field": "hi"}}},
        {"data": {"name": "c8"}, "mark": {"type": "line", "color": "#222", "strokeWidth": 1.8}, "encoding": {"y": {"field": "y", "type": "quantitative", "title": null, "scale": {"domain": [-0.2, 1.2], "nice": false}, "axis": {"values": [0, 0.2, 0.4, 0.6, 0.8, 1], "format": "~g", "labelOverlap": false}}}},
        {"data": {"name": "p8"}, "mark": {"type": "point", "filled": true, "color": "#333", "size": 16, "opacity": 1}, "encoding": {"y": {"field": "y", "type": "quantitative", "title": null, "scale": {"domain": [-0.2, 1.2], "nice": false}, "axis": {"values": [0, 0.2, 0.4, 0.6, 0.8, 1], "format": "~g", "labelOverlap": false}}}}
       ]}
    ]
  }
]
}
